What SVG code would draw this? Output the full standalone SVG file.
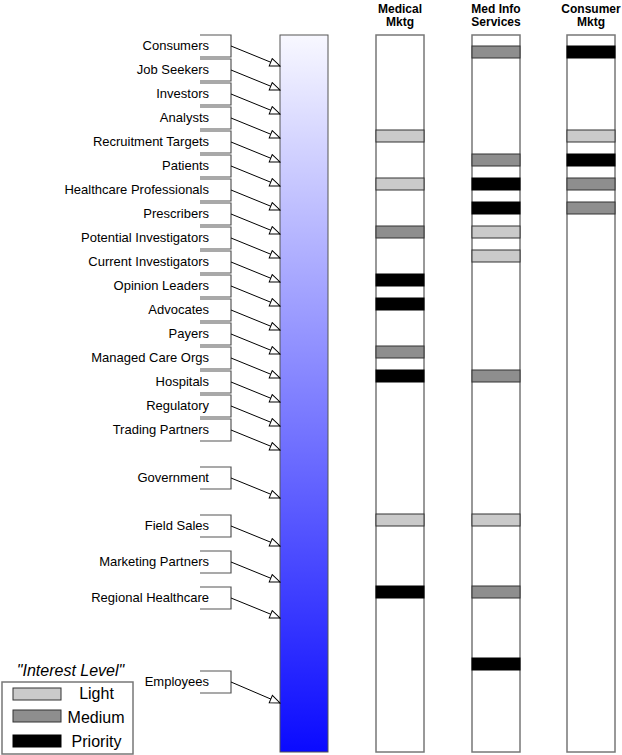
<svg xmlns="http://www.w3.org/2000/svg" width="622" height="755" viewBox="0 0 622 755">
<style>
text{font-family:"Liberation Sans",Arial,sans-serif;fill:#000}
.lbl{font-size:13px;text-anchor:end}
.hdr{font-size:12px;font-weight:bold;text-anchor:middle}
.br{fill:none;stroke:#555;stroke-width:1.2}
.con{fill:none;stroke:#000;stroke-width:1;marker-end:url(#ah)}
.col{fill:#fff;stroke:#777;stroke-width:1.5}
.L{fill:#cacaca;stroke:#333;stroke-width:1}
.M{fill:#8e8e8e;stroke:#333;stroke-width:1}
.P{fill:#000;stroke:#000;stroke-width:1}
.leg{font-size:16px;text-anchor:middle}
</style>
<defs>
<linearGradient id="g" x1="0" y1="0" x2="0" y2="1"><stop offset="0" stop-color="#f8f8ff"/><stop offset="1" stop-color="#0a0aff"/></linearGradient>
<marker id="ah" markerWidth="12" markerHeight="10" viewBox="-1 -1 12 10" refX="10" refY="4" orient="auto" markerUnits="userSpaceOnUse"><path d="M0,0 L10,4 L0,8 Z" fill="#fff" stroke="#000" stroke-width="1"/></marker>
</defs>
<rect width="622" height="755" fill="#fff"/>

<g id="headers">
<text class="hdr" x="400" y="13">Medical</text><text class="hdr" x="400" y="26">Mktg</text>
<text class="hdr" x="496" y="13">Med Info</text><text class="hdr" x="496" y="26">Services</text>
<text class="hdr" x="591" y="13">Consumer</text><text class="hdr" x="591" y="26">Mktg</text>
</g>

<g id="audience-bar"><rect x="280" y="35" width="48" height="717" fill="url(#g)" stroke="#555" stroke-width="1"/></g>

<g id="col-medical">
<rect class="col" x="376" y="35" width="48" height="717"/>
<rect class="L" x="376" y="130" width="48" height="12"/>
<rect class="L" x="376" y="178" width="48" height="12"/>
<rect class="M" x="376" y="226" width="48" height="12"/>
<rect class="P" x="376" y="274" width="48" height="12"/>
<rect class="P" x="376" y="298" width="48" height="12"/>
<rect class="M" x="376" y="346" width="48" height="12"/>
<rect class="P" x="376" y="370" width="48" height="12"/>
<rect class="L" x="376" y="514" width="48" height="12"/>
<rect class="P" x="376" y="586" width="48" height="12"/>
</g>
<g id="col-medinfo">
<rect class="col" x="472" y="35" width="48" height="717"/>
<rect class="M" x="472" y="46" width="48" height="12"/>
<rect class="M" x="472" y="154" width="48" height="12"/>
<rect class="P" x="472" y="178" width="48" height="12"/>
<rect class="P" x="472" y="202" width="48" height="12"/>
<rect class="L" x="472" y="226" width="48" height="12"/>
<rect class="L" x="472" y="250" width="48" height="12"/>
<rect class="M" x="472" y="370" width="48" height="12"/>
<rect class="L" x="472" y="514" width="48" height="12"/>
<rect class="M" x="472" y="586" width="48" height="12"/>
<rect class="P" x="472" y="658" width="48" height="12"/>
</g>
<g id="col-consumer">
<rect class="col" x="567" y="35" width="48" height="717"/>
<rect class="P" x="567" y="46" width="48" height="12"/>
<rect class="L" x="567" y="130" width="48" height="12"/>
<rect class="P" x="567" y="154" width="48" height="12"/>
<rect class="M" x="567" y="178" width="48" height="12"/>
<rect class="M" x="567" y="202" width="48" height="12"/>
</g>

<g id="n-consumers"><path class="br" d="M200,35H231V57H200"/><text class="lbl" x="209" y="50">Consumers</text></g>
<g id="n-jobseekers"><path class="br" d="M200,59H231V81H200"/><text class="lbl" x="209" y="74">Job Seekers</text></g>
<g id="n-investors"><path class="br" d="M200,83H231V105H200"/><text class="lbl" x="209" y="98">Investors</text></g>
<g id="n-analysts"><path class="br" d="M200,107H231V129H200"/><text class="lbl" x="209" y="122">Analysts</text></g>
<g id="n-recruitment"><path class="br" d="M200,131H231V153H200"/><text class="lbl" x="209" y="146">Recruitment Targets</text></g>
<g id="n-patients"><path class="br" d="M200,155H231V177H200"/><text class="lbl" x="209" y="170">Patients</text></g>
<g id="n-hcp"><path class="br" d="M200,179H231V201H200"/><text class="lbl" x="209" y="194">Healthcare Professionals</text></g>
<g id="n-prescribers"><path class="br" d="M200,203H231V225H200"/><text class="lbl" x="209" y="218">Prescribers</text></g>
<g id="n-potinv"><path class="br" d="M200,227H231V249H200"/><text class="lbl" x="209" y="242">Potential Investigators</text></g>
<g id="n-curinv"><path class="br" d="M200,251H231V273H200"/><text class="lbl" x="209" y="266">Current Investigators</text></g>
<g id="n-opinion"><path class="br" d="M200,275H231V297H200"/><text class="lbl" x="209" y="290">Opinion Leaders</text></g>
<g id="n-advocates"><path class="br" d="M200,299H231V321H200"/><text class="lbl" x="209" y="314">Advocates</text></g>
<g id="n-payers"><path class="br" d="M200,323H231V345H200"/><text class="lbl" x="209" y="338">Payers</text></g>
<g id="n-mco"><path class="br" d="M200,347H231V369H200"/><text class="lbl" x="209" y="362">Managed Care Orgs</text></g>
<g id="n-hospitals"><path class="br" d="M200,371H231V393H200"/><text class="lbl" x="209" y="386">Hospitals</text></g>
<g id="n-regulatory"><path class="br" d="M200,395H231V417H200"/><text class="lbl" x="209" y="410">Regulatory</text></g>
<g id="n-trading"><path class="br" d="M200,419H231V441H200"/><text class="lbl" x="209" y="434">Trading Partners</text></g>
<g id="n-government"><path class="br" d="M200,467H231V489H200"/><text class="lbl" x="209" y="482">Government</text></g>
<g id="n-fieldsales"><path class="br" d="M200,515H231V537H200"/><text class="lbl" x="209" y="530">Field Sales</text></g>
<g id="n-mktpartners"><path class="br" d="M200,551H231V573H200"/><text class="lbl" x="209" y="566">Marketing Partners</text></g>
<g id="n-regional"><path class="br" d="M200,587H231V609H200"/><text class="lbl" x="209" y="602">Regional Healthcare</text></g>
<g id="n-employees"><path class="br" d="M200,671H231V693H200"/><text class="lbl" x="209" y="686">Employees</text></g>

<g id="connectors">
<path class="con" d="M231,46L280,66"/>
<path class="con" d="M231,70L280,90"/>
<path class="con" d="M231,94L280,114"/>
<path class="con" d="M231,118L280,138"/>
<path class="con" d="M231,142L280,162"/>
<path class="con" d="M231,166L280,186"/>
<path class="con" d="M231,190L280,210"/>
<path class="con" d="M231,214L280,234"/>
<path class="con" d="M231,238L280,258"/>
<path class="con" d="M231,262L280,282"/>
<path class="con" d="M231,286L280,306"/>
<path class="con" d="M231,310L280,330"/>
<path class="con" d="M231,334L280,354"/>
<path class="con" d="M231,358L280,378"/>
<path class="con" d="M231,382L280,402"/>
<path class="con" d="M231,406L280,426"/>
<path class="con" d="M231,430L280,450"/>
<path class="con" d="M231,478L280,498"/>
<path class="con" d="M231,526L280,546"/>
<path class="con" d="M231,562L280,582"/>
<path class="con" d="M231,598L280,618"/>
<path class="con" d="M231,682L280,703"/>
</g>

<g id="legend">
<text x="70.5" y="676" font-size="16" font-style="italic" text-anchor="middle">"Interest Level"</text>
<rect x="2" y="682" width="131" height="72" fill="#fff" stroke="#777" stroke-width="1.5"/>
<rect class="L" x="13" y="688" width="48" height="12"/>
<rect class="M" x="13" y="710" width="48" height="12"/>
<rect class="P" x="13" y="735" width="48" height="12"/>
<text class="leg" x="96.5" y="698.5">Light</text>
<text class="leg" x="96" y="723">Medium</text>
<text class="leg" x="96.5" y="747">Priority</text>
</g>
</svg>
